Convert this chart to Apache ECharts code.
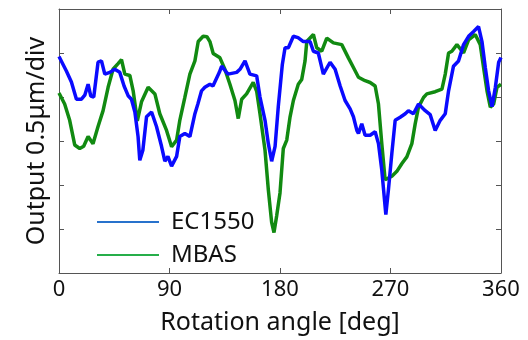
<!DOCTYPE html>
<html>
<head>
<meta charset="utf-8">
<script src="https://cdn.jsdelivr.net/npm/echarts@6/dist/echarts.min.js"></script>
<style>
  html, body { margin: 0; padding: 0; background: #fff; }
  #chart { width: 528px; height: 340px; }
</style>
</head>
<body>
<div id="chart"></div>
<script>
// Rotation angle (deg) and output (div, 0.5 µm per div) for each sensor trace
const ec1550Deg = [0, 6, 10.1, 14.2, 18.3, 21, 23.7, 25.9, 28.3, 31.8, 34.6, 37.3, 41.4, 45.4, 49.5, 53, 56.3, 59, 61.8, 64.4, 65.8, 68.3, 71.3, 75.4, 79.4, 83.5, 86.2, 88.7, 91.7, 95.8, 98.4, 102.5, 106.6, 110.7, 113.1, 116.1, 118.8, 122.9, 125.4, 130.6, 132.5, 137.6, 144.7, 147.4, 151.5, 155.5, 161, 163.7, 167.8, 170.5, 173.2, 176, 178.6, 181.9, 184.1, 186.8, 190.9, 194.7, 199, 204.5, 207.2, 211.2, 215.3, 220.8, 224.9, 229, 233, 237.1, 239.8, 242.6, 243.9, 246.6, 249.3, 253.4, 257.5, 260.2, 262.9, 266.2, 268.3, 271.1, 273.8, 277.9, 282, 284.6, 288.7, 292.8, 298.3, 302.3, 306.4, 310.5, 314.6, 317.3, 321.3, 325.4, 329.5, 333.6, 337.7, 341.7, 344.5, 347.2, 349.9, 352.7, 355.4, 358.1, 360];
const ec1550Val = [4.92, 4.59, 4.34, 3.95, 3.95, 4.04, 4.29, 4.02, 4.0, 4.79, 4.82, 4.52, 4.56, 4.63, 4.56, 4.25, 4.03, 3.95, 3.66, 3.1, 2.56, 2.79, 3.55, 3.66, 3.33, 2.88, 2.54, 2.65, 2.43, 2.65, 3.1, 3.17, 3.1, 3.62, 3.84, 4.14, 4.22, 4.29, 4.25, 4.56, 4.7, 4.52, 4.56, 4.63, 4.82, 4.52, 4.48, 4.0, 3.47, 2.94, 2.54, 2.88, 3.78, 4.74, 5.12, 5.12, 5.38, 5.35, 5.26, 5.26, 5.04, 5.0, 4.52, 4.79, 4.63, 4.25, 3.92, 3.73, 3.55, 3.24, 3.17, 3.39, 3.13, 3.13, 3.21, 2.94, 2.34, 1.33, 1.89, 2.72, 3.47, 3.54, 3.62, 3.69, 3.62, 3.84, 3.69, 3.6, 3.24, 3.47, 3.62, 4.14, 4.7, 4.82, 5.19, 5.38, 5.49, 5.6, 5.26, 4.67, 4.14, 3.78, 4.22, 4.79, 4.9];

const mbasDeg = [0, 4.6, 8.7, 12.8, 16.9, 20.1, 23.7, 27.7, 31.8, 35.9, 40, 44, 48.1, 50.9, 53.6, 57.7, 60.4, 63.8, 67.2, 72.6, 78.1, 82.1, 87.6, 91.7, 95.8, 98.4, 102.5, 106.6, 110.7, 113.4, 117.4, 120.5, 122.9, 125.6, 131.1, 135.1, 139.2, 143.3, 146, 148.8, 152.8, 158.2, 161, 163.7, 167.8, 170.5, 173.2, 175.1, 177.3, 180, 182.7, 185.5, 188.2, 190.9, 194.9, 197.7, 200.4, 201.8, 204.5, 207.2, 209.9, 214, 218.1, 223.5, 230.3, 235.7, 239.8, 243.9, 249.3, 253.4, 257.5, 260.2, 262.9, 265.6, 268.3, 271.1, 275.2, 279.3, 283.3, 287.4, 290.1, 292.8, 296.9, 299.6, 306.4, 311.9, 314.6, 317.3, 320, 324.1, 329.5, 333.6, 339, 343.1, 345.8, 348.6, 351.3, 354, 356.7, 360];
const mbasVal = [4.09, 3.84, 3.47, 2.91, 2.83, 2.88, 3.1, 2.94, 3.33, 3.69, 4.22, 4.63, 4.76, 4.85, 4.52, 4.49, 4.14, 3.46, 3.89, 4.22, 4.07, 3.62, 3.24, 2.87, 3.02, 3.47, 3.99, 4.52, 4.82, 5.26, 5.38, 5.37, 5.26, 4.99, 4.89, 4.63, 4.29, 3.92, 3.51, 3.95, 4.07, 4.33, 4.13, 3.62, 2.79, 1.89, 1.15, 0.92, 1.3, 1.82, 2.83, 3.02, 3.55, 3.92, 4.29, 4.4, 4.82, 5.26, 5.34, 5.42, 5.12, 5.04, 5.34, 5.23, 5.19, 4.89, 4.67, 4.45, 4.37, 4.33, 4.25, 3.84, 2.94, 2.12, 2.16, 2.2, 2.31, 2.49, 2.64, 2.94, 3.39, 3.77, 3.99, 4.07, 4.12, 4.18, 4.52, 5.0, 5.04, 5.19, 5.0, 5.3, 5.42, 5.19, 4.67, 4.14, 3.77, 3.84, 4.22, 4.29];

const xTicks = [0, 90, 180, 270, 360];
const seriesNames = ['EC1550', 'MBAS'];

const pairs = (xs, ys) => xs.map((x, i) => [x, ys[i]]);

const font = '"Noto Sans", "Open Sans", sans-serif';
// box frame: every axis sits on its own edge of the plot
const frame = { show: true, onZero: false, lineStyle: { color: '#555', width: 1 } };
const inTicks = { show: true, inside: true, length: 5, lineStyle: { color: '#555' } };

const chart = echarts.init(document.getElementById('chart'), null, { renderer: 'canvas' });
chart.setOption({
  animation: false,
  backgroundColor: '#fff',
  grid: { left: 59, right: 27, top: 9, bottom: 64 },
  legend: {
    orient: 'vertical',
    left: 92,
    top: 205,
    itemGap: 9,
    itemWidth: 62,
    itemHeight: 2,
    textStyle: { fontFamily: font, fontSize: 24, color: '#111', lineHeight: 24, padding: [0, 0, 0, 7] },
    data: [
      { name: seriesNames[0], icon: 'rect', itemStyle: { color: '#2872cc' } },
      { name: seriesNames[1], icon: 'rect', itemStyle: { color: '#26ae4a' } }
    ]
  },
  xAxis: [
    {
      type: 'value', min: 0, max: 360, interval: 90,
      name: 'Rotation angle [deg]', nameLocation: 'middle', nameGap: 37,
      nameTextStyle: { fontFamily: font, fontSize: 25, color: '#111' },
      axisLine: frame, axisTick: inTicks, splitLine: { show: false },
      axisLabel: { fontFamily: font, fontSize: 22, color: '#111', margin: 6,
        formatter: v => (xTicks.includes(v) ? String(v) : '') }
    },
    {
      type: 'value', min: 0, max: 360, interval: 90, position: 'top',
      axisLine: frame, axisTick: inTicks, axisLabel: { show: false }, splitLine: { show: false }
    }
  ],
  yAxis: [
    {
      type: 'value', min: 0, max: 6, interval: 1,
      name: 'Output 0.5μm/div', nameLocation: 'middle', nameGap: 10,
      nameTextStyle: { fontFamily: font, fontSize: 25, color: '#111' },
      axisLine: frame, axisTick: inTicks, axisLabel: { show: false }, splitLine: { show: false }
    },
    {
      type: 'value', min: 0, max: 6, interval: 1, position: 'right',
      axisLine: frame, axisTick: inTicks, axisLabel: { show: false }, splitLine: { show: false }
    }
  ],
  series: [
    {
      name: seriesNames[1], type: 'line', data: pairs(mbasDeg, mbasVal),
      showSymbol: false, symbol: 'none', z: 2,
      lineStyle: { color: '#118a11', width: 3.5 }, itemStyle: { color: '#118a11' }
    },
    {
      name: seriesNames[0], type: 'line', data: pairs(ec1550Deg, ec1550Val),
      showSymbol: false, symbol: 'none', z: 3,
      lineStyle: { color: '#0a0aff', width: 3.5 }, itemStyle: { color: '#0a0aff' }
    }
  ]
});
</script>
</body>
</html>
